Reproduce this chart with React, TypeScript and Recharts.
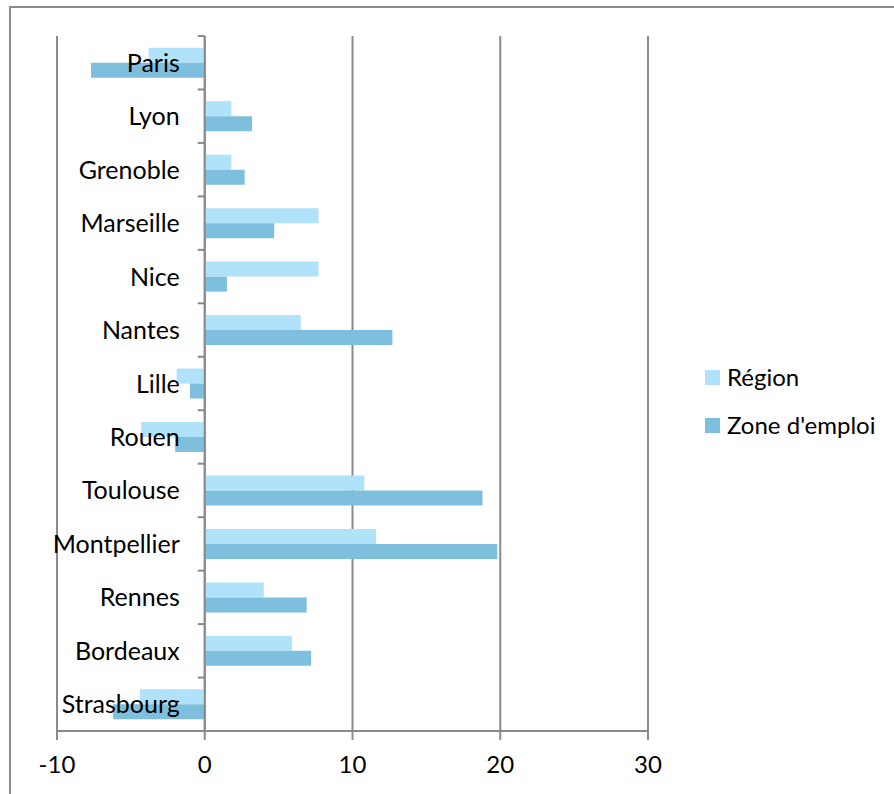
import React from "react";
import { Bar, BarChart, CartesianGrid, Legend, ReferenceLine, XAxis, YAxis } from "recharts";

const cities = ["Paris", "Lyon", "Grenoble", "Marseille", "Nice", "Nantes", "Lille", "Rouen", "Toulouse", "Montpellier", "Rennes", "Bordeaux", "Strasbourg"];
const region = [-3.8, 1.8, 1.8, 7.7, 7.7, 6.5, -1.9, -4.3, 10.8, 11.6, 4.0, 5.9, -4.4];
const zone = [-7.7, 3.2, 2.7, 4.7, 1.5, 12.7, -1.0, -2.0, 18.8, 19.8, 6.9, 7.2, -6.2];
const xTicks = [-10, 0, 10, 20, 30];

const seriesNames = ["Région", "Zone d'emploi"];
const colours = ["#b0e2fa", "#7fbfde"];

const data = cities.map((name, i) => ({ name, region: region[i], zone: zone[i] }));

const W = 883;
const H = 786;
const margin = { top: 28, right: 26, bottom: 13, left: 45 };
const yAxisW = 1;
const legendW = 220;
const xAxisH = 50;
const plotLeft = margin.left + yAxisW;
const plotW = W - plotLeft - margin.right - legendW;
const plotH = H - margin.top - margin.bottom - xAxisH;
const band = plotH / cities.length;
const zeroX = plotLeft + (plotW * (0 - xTicks[0])) / (xTicks[xTicks.length - 1] - xTicks[0]);
const grey = "#8a8a8a";
const font = "Lato, 'Open Sans', sans-serif";

const CityTick = (props: any) => {
  const { y, payload, index } = props;
  const top = y - band / 2;
  return (
    <g>
      <line x1={zeroX - 7} x2={zeroX} y1={top} y2={top} stroke={grey} strokeWidth={2} />
      {index === cities.length - 1 && (
        <line x1={zeroX - 7} x2={zeroX} y1={top + band} y2={top + band} stroke={grey} strokeWidth={2} />
      )}
      <text x={zeroX - 25} y={y} dy="0.36em" textAnchor="end" fontSize={25} fontFamily={font} fill="#000">
        {payload.value}
      </text>
    </g>
  );
};

const LegendBox = () => (
  <div style={{ width: legendW, paddingLeft: 57, boxSizing: "border-box", fontFamily: font, fontSize: 24 }}>
    {seriesNames.map((s, i) => (
      <div key={s} style={{ display: "flex", alignItems: "center", height: 48, whiteSpace: "nowrap" }}>
        <span style={{ width: 15, height: 15, background: colours[i], marginRight: 7, display: "inline-block", flex: "none" }} />
        <span style={{ lineHeight: "24px" }}>{s}</span>
      </div>
    ))}
  </div>
);

export default function App() {
  return (
    <div
      style={{
        position: "absolute",
        left: 9,
        top: 6,
        width: W,
        height: H,
        borderTop: `2px solid ${grey}`,
        borderLeft: `2px solid ${grey}`,
        background: "#fff",
      }}
    >
      <BarChart
        width={W}
        height={H}
        data={data}
        layout="vertical"
        margin={margin}
        barCategoryGap="22%"
        barGap={0}
      >
        <CartesianGrid horizontal={false} vertical={true} stroke={grey} strokeWidth={2} />
        <XAxis
          type="number"
          domain={[xTicks[0], xTicks[xTicks.length - 1]]}
          ticks={xTicks}
          height={xAxisH}
          axisLine={{ stroke: grey, strokeWidth: 2 }}
          tickLine={{ stroke: grey, strokeWidth: 2 }}
          tickSize={9}
          tickMargin={16}
          tick={{ fill: "#000", fontSize: 24, fontFamily: font }}
        />
        <Bar dataKey="region" name={seriesNames[0]} fill={colours[0]} isAnimationActive={false} />
        <Bar dataKey="zone" name={seriesNames[1]} fill={colours[1]} isAnimationActive={false} />
        <ReferenceLine x={0} stroke={grey} strokeWidth={2} />
        <YAxis type="category" dataKey="name" width={yAxisW} axisLine={false} tickLine={false} tick={CityTick} interval={0} />
        <Legend layout="vertical" align="right" verticalAlign="middle" content={<LegendBox />} />
      </BarChart>
    </div>
  );
}
